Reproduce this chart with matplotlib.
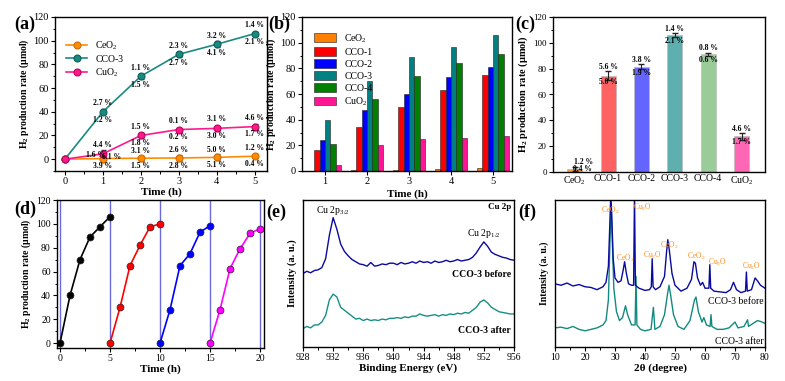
import numpy as np
import matplotlib
matplotlib.use('Agg')
import matplotlib.pyplot as plt
from matplotlib.ticker import MultipleLocator

plt.rcParams['font.family'] = ['Liberation Serif', 'DejaVu Serif']
plt.rcParams['mathtext.fontset'] = 'custom'
plt.rcParams['mathtext.rm'] = 'Liberation Serif'
plt.rcParams['mathtext.bf'] = 'Liberation Serif:bold'
plt.rcParams['mathtext.it'] = 'Liberation Serif:italic'
plt.rcParams['axes.linewidth'] = 1.0

# ---- data (a) ----
t_a = [0, 1, 2, 3, 4, 5]
ceo2_a = [0, 0.5, 0.8, 1.0, 1.5, 2.5]
cco3_a = [0, 40, 70, 88.5, 97, 106]
cuo2_a = [0, 4.5, 20, 25, 26, 27.5]
ceo2_err = [0, 2.5, 2.0, 2.5, 2.5, 1.5]
cco3_err = [0, 2.0, 2.0, 2.0, 2.5, 1.5]
cuo2_err = [0, 3.0, 2.0, 1.5, 2.0, 2.5]
cco3_up = ['', '2.7 %', '1.1 %', '2.3 %', '3.2 %', '1.4 %']
cco3_dn = ['', '1.2 %', '1.5 %', '2.7 %', '4.1 %', '2.1 %']
cuo2_up = ['', '4.4 %', '1.5 %', '0.1 %', '3.1 %', '4.6 %']
cuo2_dn = ['', '', '1.8 %', '0.2 %', '3.0 %', '1.7 %']
ceo2_up = ['', '', '3.1 %', '2.6 %', '5.0 %', '1.2 %']
ceo2_dn = ['', '3.9 %', '1.5 %', '2.8 %', '5.1 %', '0.4 %']

# ---- data (b) ----
t_b = [1, 2, 3, 4, 5]
samples = ['CeO$_2$', 'CCO-1', 'CCO-2', 'CCO-3', 'CCO-4', 'CuO$_2$']
b_vals = {
    'CeO$_2$': [0.3, 0.5, 1.0, 1.5, 2.5],
    'CCO-1': [16, 34.5, 50, 63, 74.5],
    'CCO-2': [24, 47.5, 60, 73.5, 81],
    'CCO-3': [40, 70, 88.5, 97, 106],
    'CCO-4': [21, 56, 74, 84.5, 91],
    'CuO$_2$': [4.5, 20, 25, 26, 27.5],
}
b_colors = ['#FF7F00', '#FF0000', '#0000FF', '#008080', '#008000', '#FF1493']

# ---- data (c) ----
c_vals = [2.5, 74.5, 81.5, 106, 91, 27.5]
c_err = [1.5, 3.5, 2.0, 1.5, 1.2, 2.5]
c_up = ['1.2 %', '5.6 %', '3.8 %', '1.4 %', '0.8 %', '4.6 %']
c_dn = ['0.4 %', '5.0 %', '1.9 %', '2.1 %', '0.6 %', '1.7 %']
c_colors = ['#F5A04A', '#FF6262', '#6464FF', '#5FAFAF', '#99CC99', '#FF66B4']

# ---- data (d) ----
d_t = [[0, 1, 2, 3, 4, 5], [5, 6, 7, 8, 9, 10],
       [10, 11, 12, 13, 14, 15], [15, 16, 17, 18, 19, 20]]
d_v = [[0, 40, 70, 89, 97.5, 106], [0, 30, 65, 82, 97.5, 100],
       [0, 28, 65, 75, 93, 98.5], [0, 28, 62.5, 79, 92, 96]]
d_colors = ['black', 'red', 'blue', 'magenta']
d_cycles = [0, 5, 10, 15, 20]

# ---- data (e) XPS Cu 2p ----
be = np.arange(928, 956.01, 0.5)
xps_before = [50, 51.5, 50.5, 52, 52.5, 54, 60, 76, 88, 80, 70, 65, 62, 59.5, 58,
              56.5, 56, 55, 57.5, 55, 55.5, 56.5, 56, 57, 57, 56, 57.5, 56.5, 57,
              58, 57, 58.5, 57.5, 58, 57, 58.5, 57.5, 58, 59, 58, 58.5, 59.5, 58.5,
              59, 59.5, 61, 64, 68, 71.5, 68.5, 64.5, 63, 62, 61, 60.5, 59.5, 59]
xps_after = [12.5, 14, 13, 15, 15, 17, 21.5, 32, 36, 34, 27, 25, 23, 21, 19, 19.5,
             18, 19, 18, 18.5, 18, 19, 18.5, 19.5, 19.5, 20, 19.5, 20.5, 20, 21, 21,
             22.5, 21.5, 21, 21.5, 22, 21, 22, 21.5, 22.5, 22, 23, 22.5, 23.5, 23,
             25, 27, 30.5, 32, 30, 27, 25.5, 24, 23.5, 23, 22.5, 22.5]

# ---- data (f) XRD ----
tt_before = [10, 12, 14, 16, 18, 20, 22, 24, 25, 26, 27, 27.8, 28.3, 28.6, 28.9, 29.4,
             30, 31, 32, 32.7, 33.2, 33.8, 34.5, 35.5, 36.2, 36.5, 36.8, 38, 40, 41.5,
             42.1, 42.4, 42.7, 43.5, 45, 46.5, 47.2, 47.6, 48.1, 49, 50, 52, 54, 55.5,
             56.3, 56.8, 57.5, 58.5, 59.2, 60, 61.3, 61.6, 61.9, 63, 65, 67, 68.5,
             69.5, 70.5, 72, 73.5, 73.8, 74.1, 75.5, 76.7, 77.5, 78.5, 80]
xrd_before = [43, 42, 43.5, 41.5, 42.5, 41, 40.5, 39, 40, 41, 44, 55, 85, 104, 90, 60,
              47, 44, 45, 52, 58, 50, 43, 42, 42, 105, 42, 40, 38.5, 39,
              41, 60, 41, 39, 41, 48, 65, 73, 66, 50, 42, 38, 40, 46,
              58, 57, 47, 42, 44, 40, 40, 56, 40, 38, 37.5, 37, 39,
              44, 39, 37, 38, 51, 38, 39, 47, 45, 42, 40]
tt_after = [10, 12, 14, 16, 18, 20, 22, 24, 26, 27, 27.8, 28.3, 28.7, 29.1, 29.6, 30.5,
            31.5, 32.5, 33.5, 34.2, 35.5, 36.7, 37, 37.3, 38.5, 40, 42, 42.8, 43.3, 45,
            46.5, 47.5, 48, 48.5, 49.5, 51, 53, 55, 56.5, 57, 57.8, 59, 59.6, 60.5,
            61.7, 62, 62.3, 64, 66, 68, 70, 71, 73, 74.2, 74.5, 76, 77.5, 79, 80]
xrd_after = [13, 13.5, 12.5, 14, 12, 11, 12, 13, 15, 18, 32, 70, 98, 72, 40, 24,
             18, 20, 28, 22, 15, 15, 48, 15, 12, 11, 12, 27, 12, 14,
             22, 36, 42, 36, 22, 14, 12, 18, 32, 34, 24, 17, 20, 15,
             14, 22, 14, 12, 12, 13, 17, 13, 14, 18.5, 14, 16, 18, 17, 16]
xrd_peaks = [('CeO$_2$', 28.5, 93), ('Cu$_2$O', 39.2, 95), ('CeO$_2$', 33.5, 60),
             ('Cu$_2$O', 42.5, 62), ('CeO$_2$', 48.0, 69), ('CeO$_2$', 57.0, 61.5),
             ('Cu$_2$O', 64.0, 57.5), ('Cu$_2$O', 75.5, 55)]

W, H = 785, 381
fig = plt.figure(figsize=(7.85, 3.81), dpi=100)


def box(l, r, t, b):
    return [l / W, 1 - b / H, (r - l) / W, (b - t) / H]


ylab = r'H$_\mathbf{2}$ production rate (μmol)'
tick_fs = 7.5


def style(ax, fs=tick_fs):
    ax.tick_params(direction='out', labelsize=fs, length=3, width=0.8, pad=1.5)
    ax.tick_params(which='minor', direction='out', length=1.8, width=0.7)


def pct(ax, x, y, s, fs=5.5):
    if s:
        ax.text(x, y, s, ha='center', va='center', fontsize=fs, fontweight='bold')


# ================= (a) =================
ax = fig.add_axes(box(55, 267, 17, 171))
lines = [(ceo2_a, ceo2_err, '#FF8C00', '#D06A00', 'CeO$_2$'),
         (cco3_a, cco3_err, '#1A8A80', '#0E5F58', 'CCO-3'),
         (cuo2_a, cuo2_err, '#FF1A8C', '#C00060', 'CuO$_2$')]
for v, e, c, ec, lab in lines:
    ax.errorbar(t_a, v, yerr=e, fmt='none', ecolor='#333333', elinewidth=0.7,
                capsize=1.8)
    ax.plot(t_a, v, color=c, lw=1.2, marker='o', ms=5, mfc=c, mec=ec, mew=0.8,
            label=lab)
for i in range(1, 6):
    pct(ax, t_a[i], cco3_a[i] + 7, cco3_up[i])
    pct(ax, t_a[i], cco3_a[i] - 7, cco3_dn[i])
    pct(ax, t_a[i], cuo2_a[i] + 7.5, cuo2_up[i])
    pct(ax, t_a[i], cuo2_a[i] - 6.5, cuo2_dn[i])
    pct(ax, t_a[i], ceo2_a[i] + 6.5, ceo2_up[i])
    pct(ax, t_a[i], ceo2_a[i] - 6.5, ceo2_dn[i])
pct(ax, 0.8, 3.5, '1.6 %')
pct(ax, 1.22, 1.5, '6.1 %')
ax.set_xlim(-0.26, 5.32)
ax.set_ylim(-10, 120)
ax.xaxis.set_major_locator(MultipleLocator(1))
ax.xaxis.set_minor_locator(MultipleLocator(0.5))
ax.yaxis.set_major_locator(MultipleLocator(20))
ax.yaxis.set_minor_locator(MultipleLocator(10))
style(ax)
ax.set_xlabel('Time (h)', fontsize=8, fontweight='bold', labelpad=1)
ax.set_ylabel(ylab, fontsize=7, fontweight='bold', labelpad=2)
ax.legend(loc='upper left', bbox_to_anchor=(0.02, 0.9), fontsize=7, frameon=False,
          handlelength=2.2, labelspacing=0.3, borderaxespad=0.3)

# ================= (b) =================
ax = fig.add_axes(box(302, 512, 17, 171))
bw = 0.127
for k, (s, c) in enumerate(zip(samples, b_colors)):
    xs = [t + (k - 2.5) * bw for t in t_b]
    ax.bar(xs, b_vals[s], width=bw, color=c, edgecolor='#222222', linewidth=0.4,
           label=s)
ax.set_xlim(0.45, 5.45)
ax.set_ylim(0, 120)
ax.set_xticks(t_b)
ax.yaxis.set_major_locator(MultipleLocator(20))
ax.yaxis.set_minor_locator(MultipleLocator(10))
style(ax)
ax.set_xlabel('Time (h)', fontsize=8, fontweight='bold', labelpad=2)
ax.set_ylabel(ylab, fontsize=7.2, fontweight='bold', labelpad=2)
ax.legend(loc='upper left', bbox_to_anchor=(0.03, 0.94), fontsize=7, frameon=False,
          handlelength=2.3, handleheight=1.0, labelspacing=0.25, borderaxespad=0.2)

# ================= (c) =================
ax = fig.add_axes(box(553, 765, 17, 172))
xc = np.arange(len(samples))
ax.bar(xc, c_vals, width=0.45, color=c_colors, edgecolor='#BBBBBB', linewidth=0.5)
ax.errorbar(xc, c_vals, yerr=c_err, fmt='none', ecolor='#222222', elinewidth=0.8,
            capsize=2)
for i in range(1, 6):
    pct(ax, xc[i], c_vals[i] + c_err[i] + 3.5, c_up[i])
    pct(ax, xc[i], c_vals[i] - 4.5, c_dn[i])
pct(ax, 0.28, 7.5, c_up[0])
pct(ax, 0.22, 2.0, c_dn[0])
ax.set_xlim(-0.65, 5.7)
ax.set_ylim(0, 120)
ax.set_xticks(xc)
ax.set_xticklabels(samples)
ax.yaxis.set_major_locator(MultipleLocator(20))
ax.yaxis.set_minor_locator(MultipleLocator(10))
style(ax, 6.5)
ax.tick_params(axis='x', length=0, labelsize=7)
ax.set_ylabel(ylab, fontsize=7.5, fontweight='bold', labelpad=2)

# ================= (d) =================
ax = fig.add_axes(box(57, 264, 200, 348))
for xv in d_cycles:
    ax.axvline(xv, color='#6A6AD8', lw=1.0)
for tt, vv, c in zip(d_t, d_v, d_colors):
    ax.plot(tt, vv, color=c, lw=1.2, marker='o', ms=5, mfc=c, mec='#222222',
            mew=0.5)
ax.set_xlim(-0.3, 20.4)
ax.set_ylim(-4, 120)
ax.xaxis.set_major_locator(MultipleLocator(5))
ax.xaxis.set_minor_locator(MultipleLocator(2.5))
ax.yaxis.set_major_locator(MultipleLocator(20))
ax.yaxis.set_minor_locator(MultipleLocator(10))
style(ax, 7)
ax.set_xlabel('Time (h)', fontsize=8, fontweight='bold', labelpad=1)
ax.set_ylabel(ylab, fontsize=7, fontweight='bold', labelpad=2)

# ================= (e) =================
ax = fig.add_axes(box(303, 514, 200, 347))
ax.plot(be, xps_before, color='#0A0A9F', lw=1.0)
ax.plot(be, xps_after, color='#178F85', lw=1.0)
ax.text(932, 93, r'Cu 2p$_{3/2}$', ha='center', va='center', fontsize=7)
ax.text(952, 77, r'Cu 2p$_{1/2}$', ha='center', va='center', fontsize=7)
ax.text(955.6, 95, 'Cu 2p', ha='right', va='center', fontsize=6.5, fontweight='bold')
ax.text(955.6, 49, 'CCO-3 before', ha='right', va='center', fontsize=7,
        fontweight='bold')
ax.text(955.6, 11, 'CCO-3 after', ha='right', va='center', fontsize=7,
        fontweight='bold')
ax.set_xlim(928, 956)
ax.set_ylim(0, 100)
ax.xaxis.set_major_locator(MultipleLocator(4))
ax.xaxis.set_minor_locator(MultipleLocator(2))
ax.set_yticks([])
style(ax, 7)
ax.set_xlabel('Binding Energy (eV)', fontsize=8, fontweight='bold', labelpad=1)
ax.set_ylabel('Intensity (a. u.)', fontsize=7.5, fontweight='bold', labelpad=4)

# ================= (f) =================
ax = fig.add_axes(box(555, 765, 200, 347))
ax.plot(tt_after, xrd_after, color='#138A80', lw=1.0)
ax.plot(tt_before, xrd_before, color='#0A0A9F', lw=1.0)
for s, x, y in xrd_peaks:
    ax.text(x, y, s, ha='center', va='center', fontsize=5.5, color='#FF8C1A')
ax.text(79.5, 31, 'CCO-3 before', ha='right', va='center', fontsize=7)
ax.text(79.5, 4, 'CCO-3 after', ha='right', va='center', fontsize=7)
ax.set_xlim(10, 80)
ax.set_ylim(0, 100)
ax.xaxis.set_major_locator(MultipleLocator(10))
ax.xaxis.set_minor_locator(MultipleLocator(5))
ax.set_yticks([])
style(ax, 7)
ax.set_xlabel('2θ (degree)', fontsize=8, fontweight='bold', labelpad=1)
ax.set_ylabel('Intensity (a. u.)', fontsize=7, fontweight='bold', labelpad=4)

# panel letters
for lab, x, y in [('(a)', 14, 24), ('(b)', 268, 24), ('(c)', 515, 24),
                  ('(d)', 14, 209), ('(e)', 266, 212), ('(f)', 518, 212)]:
    fig.text(x / W, 1 - y / H, lab, fontsize=13, fontweight='bold', va='center',
             ha='left')

fig.savefig('out.png', dpi=100)
